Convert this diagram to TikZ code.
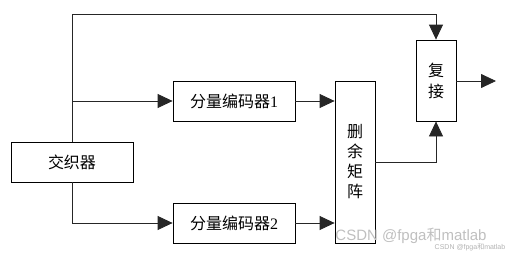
\documentclass[tikz,border=0pt]{standalone}
\usepackage{fontspec}
\setmainfont{Liberation Serif}
\newfontfamily\cjk{Noto Sans CJK SC}
\usetikzlibrary{arrows.meta}
\begin{document}
\begin{tikzpicture}[x=1pt,y=-1pt,
  blk/.style={draw=black,line width=0.8pt,inner sep=0pt,font=\cjk\fontsize{16}{20}\selectfont},
  conn/.style={draw=black!85,line width=0.8pt},
  arr/.style={conn,-{Triangle[length=15pt,width=14pt]}}]
\useasboundingbox (0,0) rectangle (520,257);
\node[blk,minimum width=122pt,minimum height=40pt] (jz) at (72,162) {交织器};
\node[blk,minimum width=122pt,minimum height=40pt] (e1) at (234,101) {分量编码器\rmfamily 1};
\node[blk,minimum width=122pt,minimum height=40pt] (e2) at (234,223) {分量编码器\rmfamily 2};
\node[blk,minimum width=40pt,minimum height=162pt,align=center] (sy) at (355,162) {删\\[0pt]余\\[0pt]矩\\[0pt]阵};
\node[blk,minimum width=40pt,minimum height=81pt,align=center] (fj) at (436,80.5) {复\\[1pt]接};
\coordinate (out) at (496,81);
\draw[arr] (jz.north) -- (jz.north |- 0,14) -| (fj.north);
\draw[arr] (jz.north |- e1.west) -- (e1.west);
\draw[arr] (jz.south) |- (e2.west);
\draw[arr] (e1.east) -- (e1.east -| sy.west);
\draw[arr] (e2.east) -- (e2.east -| sy.west);
\draw[arr] (sy.east) -| (fj.south);
\draw[arr] (fj.east |- out) -- (out);
\node[text=black!25,font=\fontspec{Liberation Sans}\fontsize{15}{18}\selectfont,inner sep=0pt] (wm) at (411,236) {CSDN @fpga{\cjk 和}matlab};
\node[text=black!30,font=\fontspec{Liberation Sans}\fontsize{7}{8}\selectfont,inner sep=0pt] (wm2) at (470,247) {CSDN @fpga{\cjk 和}matlab};
\end{tikzpicture}
\end{document}
